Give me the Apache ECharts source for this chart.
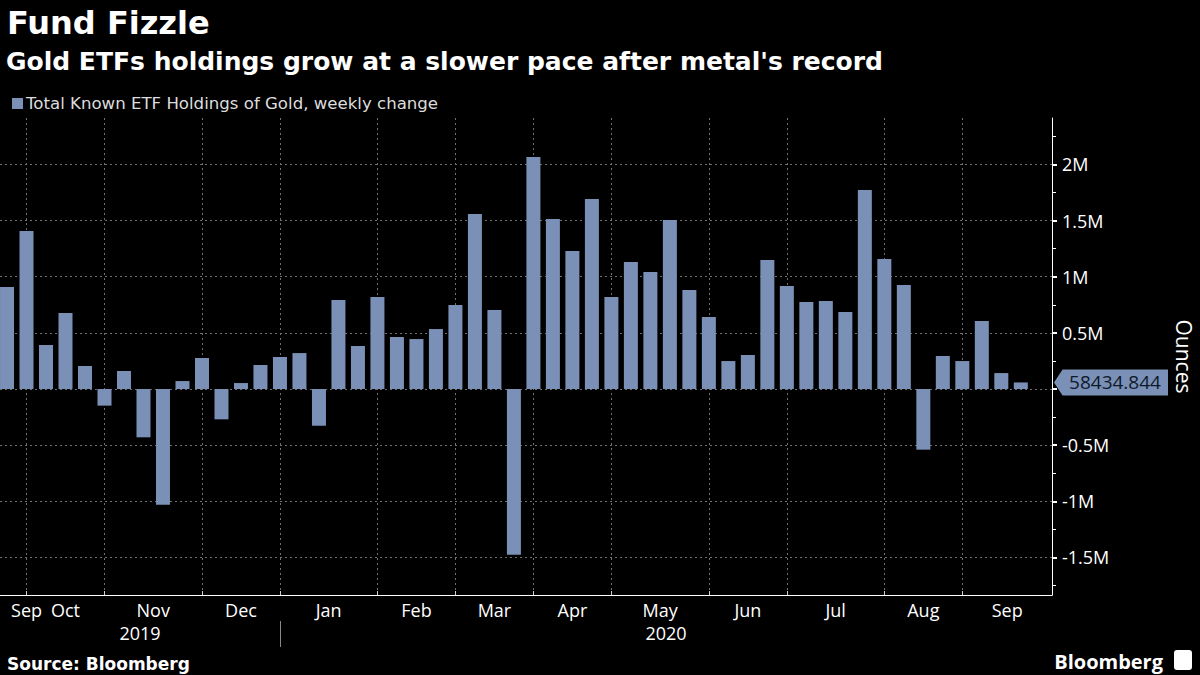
<!DOCTYPE html>
<html>
<head>
<meta charset="utf-8">
<script src="https://cdn.jsdelivr.net/npm/echarts@6/dist/echarts.min.js"></script>
<style>html,body{margin:0;padding:0;background:#000;}#c{width:1200px;height:675px;}</style>
</head>
<body>
<div id="c"></div>
<script>
// ---- data ----
const weeks = [
  '2019-09-27','2019-10-04','2019-10-11','2019-10-18','2019-10-25','2019-11-01','2019-11-08','2019-11-15','2019-11-22','2019-11-29',
  '2019-12-06','2019-12-13','2019-12-20','2019-12-27','2020-01-03','2020-01-10','2020-01-17','2020-01-24','2020-01-31','2020-02-07',
  '2020-02-14','2020-02-21','2020-02-28','2020-03-06','2020-03-13','2020-03-20','2020-03-27','2020-04-03','2020-04-10','2020-04-17',
  '2020-04-24','2020-05-01','2020-05-08','2020-05-15','2020-05-22','2020-05-29','2020-06-05','2020-06-12','2020-06-19','2020-06-26',
  '2020-07-03','2020-07-10','2020-07-17','2020-07-24','2020-07-31','2020-08-07','2020-08-14','2020-08-21','2020-08-28','2020-09-04',
  '2020-09-11','2020-09-18','2020-09-25'
];
const weeklyChange = [
  908000, 1407000, 392000, 677000, 205000, -148000, 160000, -430000, -1030000, 71000,
  276000, -270000, 53000, 214000, 285000, 320000, -327000, 792000, 383000, 819000,
  463000, 445000, 534000, 748000, 1558000, 703000, -1475000, 2066000, 1514000, 1229000,
  1692000, 819000, 1131000, 1042000, 1505000, 882000, 641000, 249000, 303000, 1149000,
  917000, 775000, 784000, 686000, 1772000, 1157000, 926000, -540000, 294000, 249000,
  605000, 142000, 58434.844
];
const monthNames = ['Jan','Feb','Mar','Apr','May','Jun','Jul','Aug','Sep','Oct','Nov','Dec'];
const yMajorTicks = [-1500000, -1000000, -500000, 0, 500000, 1000000, 1500000, 2000000];
const yTickLabels = [-1500000, -1000000, -500000, 500000, 1000000, 1500000, 2000000]; // "0" sits under the last-value flag
const yMinorTicks = [-1750000, -1250000, -750000, -250000, 250000, 750000, 1250000, 1750000, 2250000];
const seriesName = 'Total Known ETF Holdings of Gold, weekly change';

// ---- derived ----
const X_MIN = -0.36, X_MAX = 53.6;
const Y_MIN = -1834000, Y_MAX = 2413000;
const barData = weeklyChange.map((v, i) => [i, v]);
const monthStarts = [];
const monthSegs = [];
let segStart = X_MIN, segMonth = +weeks[0].slice(5,7);
const yearStarts = [];
const yearSegs = [];
let ySegStart = X_MIN, segYear = weeks[0].slice(0,4);
for (let i = 1; i < weeks.length; i++) {
  const m = +weeks[i].slice(5,7), y = weeks[i].slice(0,4);
  if (m !== +weeks[i-1].slice(5,7)) {
    monthStarts.push(i);
    monthSegs.push({start: segStart, end: i, name: monthNames[segMonth-1]});
    segStart = i; segMonth = m;
  }
  if (y !== weeks[i-1].slice(0,4)) {
    yearStarts.push(i);
    yearSegs.push({start: ySegStart, end: i, name: segYear});
    ySegStart = i; segYear = y;
  }
}
monthSegs.push({start: segStart, end: X_MAX, name: monthNames[segMonth-1]});
yearSegs.push({start: ySegStart, end: X_MAX, name: segYear});
const monthLabelPos = monthSegs.map(s => Math.max((s.start + s.end) / 2, 1));
const yearLabelPos = yearSegs.map(s => (s.start + s.end) / 2);
function nearestName(v, pos, segs) {
  let best = 0;
  for (let k = 1; k < pos.length; k++) if (Math.abs(pos[k]-v) < Math.abs(pos[best]-v)) best = k;
  return segs[best].name;
}
const lastIdx = weeklyChange.length - 1;
const lastVal = weeklyChange[lastIdx];

const FONT = '"DejaVu Sans", "Open Sans", sans-serif';
const FONT2 = '"Open Sans", "Noto Sans", sans-serif';
const BAR = '#7a90b6';
const chart = echarts.init(document.getElementById('c'), null, {renderer: 'svg'});
chart.setOption({
  backgroundColor: '#000',
  animation: false,
  textStyle: {fontFamily: FONT},
  title: [
    {text: 'Fund Fizzle', left: 2, top: 2, textStyle: {color: '#fff', fontSize: 32, fontWeight: 'bold', fontFamily: FONT}},
    {text: "Gold ETFs holdings grow at a slower pace after metal's record", left: 1, top: 44, textStyle: {color: '#fff', fontSize: 25, fontWeight: 'bold', fontFamily: FONT}},
    {text: 'Source: Bloomberg', left: 2, top: 650, textStyle: {color: '#fff', fontSize: 17, fontWeight: 'bold', fontFamily: FONT}},
    {text: 'Bloomberg', right: 32, top: 646, textStyle: {color: '#fff', fontSize: 20, fontWeight: 'bold', fontFamily: FONT2}}
  ],
  graphic: [
    {type: 'rect', right: 8, top: 650, shape: {width: 18, height: 20, r: 3}, style: {fill: '#fff'}}
  ],
  legend: {
    left: 7, top: 90, icon: 'rect', itemWidth: 11, itemHeight: 11, itemGap: 4,
    textStyle: {color: '#ddd', fontSize: 16.6, fontFamily: FONT, padding: [0,0,0,-2]},
    data: [seriesName]
  },
  grid: {left: 0, right: 148, top: 118, bottom: 80, containLabel: false, outerBoundsMode: 'none'},
  xAxis: [
    {
      type: 'value', position: 'bottom', min: X_MIN, max: X_MAX,
      axisLine: {show: true, onZero: false, lineStyle: {color: '#fff', width: 1}},
      axisTick: {show: true, inside: true, length: 4, customValues: monthStarts, lineStyle: {color: '#ccc'}},
      axisLabel: {show: true, customValues: monthLabelPos, margin: 6, color: '#fff', fontSize: 18, fontFamily: FONT2,
        formatter: v => nearestName(v, monthLabelPos, monthSegs)},
      splitLine: {show: true, lineStyle: {color: '#707070', type: [2, 3], width: 1}}
    },
    {
      type: 'value', position: 'bottom', offset: 26, min: X_MIN, max: X_MAX,
      axisLine: {show: false, onZero: false},
      axisTick: {show: true, inside: false, length: 26, customValues: yearStarts, lineStyle: {color: '#888'}},
      axisLabel: {show: true, customValues: yearLabelPos, margin: 3, color: '#fff', fontSize: 18, fontFamily: FONT2,
        formatter: v => nearestName(v, yearLabelPos, yearSegs)},
      splitLine: {show: false}
    }
  ],
  yAxis: [
    {
      type: 'value', position: 'right', min: Y_MIN, max: Y_MAX,
      name: 'Ounces', nameLocation: 'middle', nameRotate: -90, nameGap: 121,
      nameTextStyle: {color: '#fff', fontSize: 21, fontFamily: FONT2},
      axisLine: {show: true, onZero: false, lineStyle: {color: '#fff', width: 1}},
      axisTick: {show: true, inside: false, length: 5, customValues: yMajorTicks, lineStyle: {color: '#fff', width: 2}},
      axisLabel: {show: true, customValues: yTickLabels, margin: 10, color: '#fff', fontSize: 18, fontFamily: FONT2,
        formatter: v => (v / 1e6) + 'M'},
      splitLine: {show: true, lineStyle: {color: '#707070', type: [2, 3], width: 1}}
    },
    {
      type: 'value', position: 'right', min: Y_MIN, max: Y_MAX,
      axisLine: {show: false, onZero: false},
      axisTick: {show: true, inside: false, length: 4, customValues: yMinorTicks, lineStyle: {color: '#fff', width: 1}},
      axisLabel: {show: false},
      splitLine: {show: false}
    }
  ],
  series: [{
    name: seriesName,
    type: 'bar',
    xAxisIndex: 0, yAxisIndex: 0,
    data: barData,
    barWidth: 14,
    itemStyle: {color: BAR},
    markPoint: {
      silent: true,
      symbol: 'path://M0,13 L9,0 H120 V26 H9 Z',
      symbolSize: [114, 26],
      symbolOffset: [59, 0],
      itemStyle: {color: BAR},
      label: {show: true, position: 'inside', offset: [4, 0], color: '#0e1a2b', fontSize: 19, fontFamily: FONT2,
        formatter: () => String(lastVal)},
      data: [{coord: [X_MAX, lastVal], value: lastVal}]
    }
  }]
});
</script>
</body>
</html>
